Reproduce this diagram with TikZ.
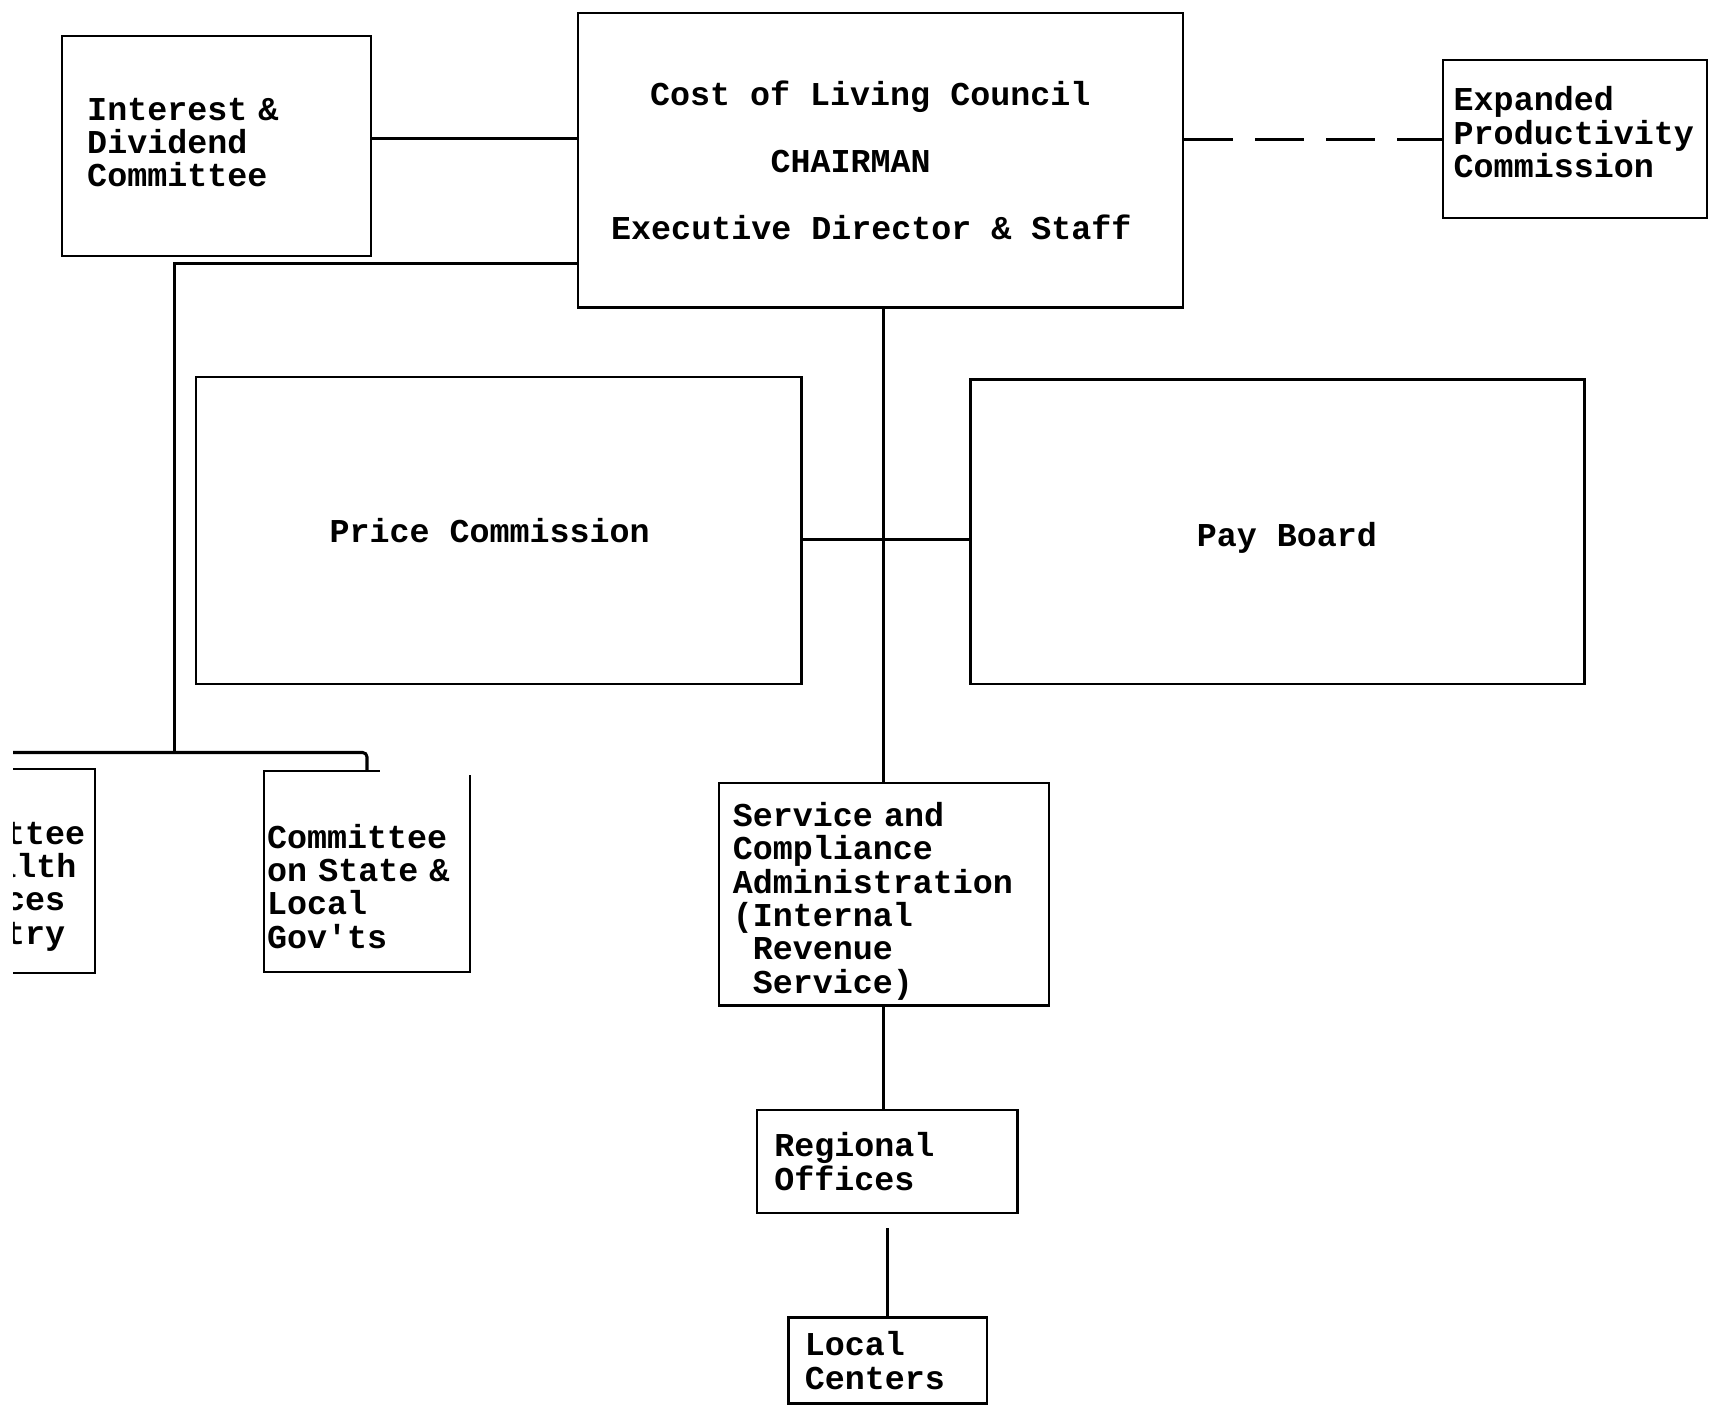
\documentclass[tikz,border=0pt]{standalone}
\usepackage{fontspec}
\setmonofont{Liberation Mono}
\usetikzlibrary{positioning}
\newcommand{\typed}{\ttfamily\bfseries\fontsize{8.7}{8.7}\selectfont}

\begin{document}
\begin{tikzpicture}[x=0.1mm, y=-0.1mm,
    box/.style={draw, line width=0.6pt, rectangle, align=left, font=\typed},
    link/.style={draw, line width=0.8pt},
    dashlink/.style={link, dash pattern=on 4.5mm off 2mm}]
      \useasboundingbox (0,0) rectangle (1568,1289);
      \clip (12,0) rectangle (1568,1289);

      \node[box, align=center, minimum width=55.5mm, minimum height=27mm] (col) at (807.5,147)
        {Cost of Living Council\rule{1.9mm}{0pt}\\[3.1mm]CHAIRMAN\rule{5.5mm}{0pt}\\[3.1mm]Executive Director \& Staff\rule{1.7mm}{0pt}};
      \node[box, text width=23.7mm, inner xsep=2.3mm, text height=4pt, minimum height=20.2mm] (idc) at (198.5,134)
        {Interest \&\\Dividend\\Committee};
      \node[box, text width=22.2mm, inner xsep=1mm, text height=2.7pt, minimum height=14.5mm] (epc) at (1444,127.5)
        {Expanded\\Productivity\\Commission};
      \node[box, align=center, minimum width=55.5mm, minimum height=28.1mm] (pc) at (457.5,486.5)
        {Price Commission\rule{1.7mm}{0pt}};
      \node[box, align=center, text height=9.5pt, minimum width=56.3mm, minimum height=27.9mm] (pb) at (1171.5,487.5)
        {\rule{1.7mm}{0pt}Pay Board};
      \node[box, text width=16.5mm, inner xsep=0.9mm, text height=14pt, minimum height=18.7mm] (chi) at (-4.5,798.5)
        {Committee\\on Health\\Services\\Industry};
      \node[box, draw=none, text width=18.3mm, inner xsep=0.2mm, text height=14pt, minimum height=18.2mm] (csl) at (336.5,799)
        {Committee\\on State \&\\Local\\Gov'ts};
      \node[box, text width=27.7mm, inner xsep=1.3mm, inner ysep=0.2mm, text height=10pt, minimum height=20.4mm] (sca) at (810.5,820)
        {Service and\\Compliance\\Administration\\(Internal\\\phantom{(}Revenue\\\phantom{(}Service)};
      \node[box, text width=20.7mm, inner xsep=1.6mm, minimum height=9.4mm] (ro) at (813.5,1065)
        {Regional\\Offices};
      \node[box, text width=15.2mm, inner xsep=1.5mm, minimum height=7.9mm] (lc) at (814,1247.5)
        {Local\\Centers};

      % open top edge of the state committee box
      \draw[line width=0.6pt] ([xshift=1.15mm]csl.north) -| (csl.south west) -| ([yshift=-0.4mm]csl.north east);

      \coordinate (fork) at (160,690);
      \path[link]
        ([yshift=0.7mm]idc.east) -- ([yshift=0.7mm]idc.east -| col.west)
        ([yshift=-9.5mm]col.west) -| (fork)
        (col.south -| sca.north) -- (sca.north)
        ([yshift=-0.8mm]pc.east) -- ([yshift=-0.8mm]pc.east -| pb.west)
        (sca.south) -- (sca.south |- ro.north)
        ([yshift=-1.3mm]ro.south) -- (ro.south |- lc.north);
      \draw[link, rounded corners=0.4mm] (chi.north) |- (fork) -| (csl.north);
      \path[dashlink] (col.east |- epc.west) -- (epc.west);
\end{tikzpicture}
\end{document}
